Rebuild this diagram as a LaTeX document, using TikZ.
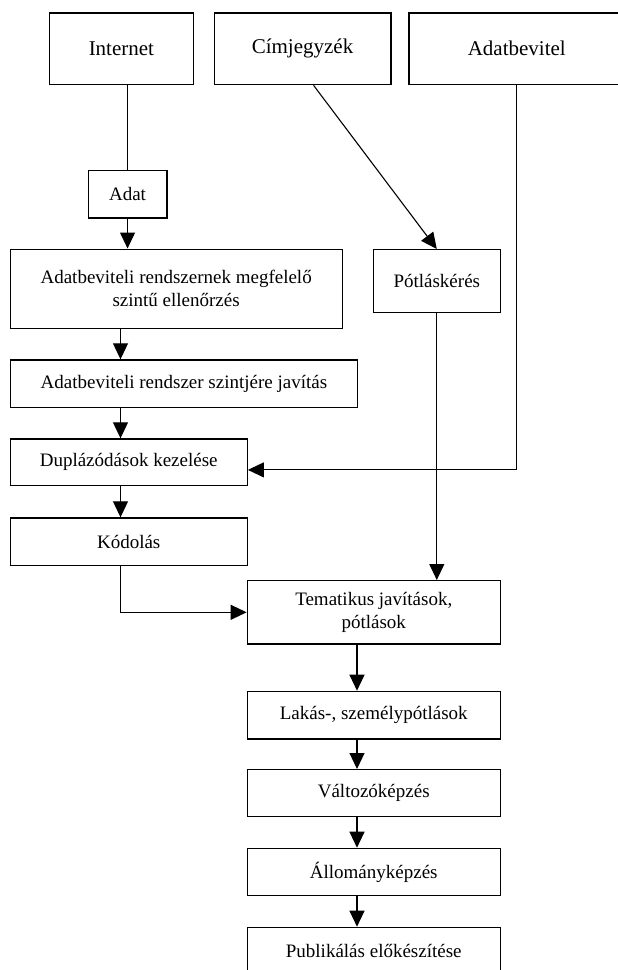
\documentclass[tikz,border=0pt]{standalone}
\usepackage{fontspec}
\setmainfont{Liberation Serif}
\usetikzlibrary{arrows.meta,calc}
\begin{document}
\begin{tikzpicture}[x=1pt,y=-1pt,
  box/.style={draw, line width=1.3pt, inner sep=0pt, anchor=north west, align=center, font=\fontsize{19}{23}\selectfont},
  topbox/.style={box, font=\fontsize{21}{25}\selectfont},
  conn/.style={line width=1.1pt},
  arr/.style={conn, -{Triangle[length=16pt,width=15pt]}}]
\useasboundingbox (0,0) rectangle (618,970);
\clip (0,0) rectangle (618,970);
% top row
\node[topbox, minimum width=144.5pt, minimum height=71.7pt] (inet) at (48.5,12.3) {Internet};
\node[topbox, minimum width=176.6pt, minimum height=71.7pt] (cim) at (213.6,12.3) {Címjegyzék};
\node[topbox, minimum width=215.7pt, minimum height=71.7pt] (adatb) at (408.3,12.3) {Adatbevitel};
% left column
\node[box, minimum width=78.8pt, minimum height=47.3pt] (adat) at (87.5,170) {Adat};
\node[box, minimum width=332pt, minimum height=79pt] (a1) at (9.5,248.5) {Adatbeviteli rendszernek megfelelő\\szintű ellenőrzés};
\node[box, minimum width=126.9pt, minimum height=63pt] (pot) at (372.7,249) {Pótláskérés};
\node[box, minimum width=347.5pt, minimum height=47.4pt] (a2) at (9.5,359.3) {Adatbeviteli rendszer szintjére javítás};
\node[box, minimum width=237.1pt, minimum height=46.7pt] (a3) at (9.5,438.3) {Duplázódások kezelése};
\node[box, minimum width=237.1pt, minimum height=47.7pt] (a4) at (9.5,517.3) {Kódolás};
% right column
\node[box, minimum width=253pt, minimum height=63.3pt] (tem) at (246.6,580) {Tematikus javítások,\\pótlások};
\node[box, minimum width=253pt, minimum height=47.6pt] (lak) at (246.6,690.7) {Lakás-, személypótlások};
\node[box, minimum width=253pt, minimum height=46.7pt] (val) at (246.6,769) {Változóképzés};
\node[box, minimum width=253pt, minimum height=47.3pt] (all) at (246.6,847.7) {Állományképzés};
\node[box, minimum width=253pt, minimum height=47.3pt] (pub) at (246.6,926.7) {Publikálás előkészítése};
% column coordinates
\coordinate (c1) at (120.5,0);
\coordinate (c3) at (357,0);
\coordinate (c2) at ([yshift=-7.6pt]a3.east);
% connectors
\draw[conn] (inet.south -| adat.north) -- (adat.north);
\draw[arr] (adat.south) -- (adat.south |- a1.north);
\draw[arr] ([xshift=11pt]cim.south) -- (pot.north);
\draw[arr] (a1.south -| c1) -- (a2.north -| c1);
\draw[arr] (a2.south -| c1) -- (a3.north -| c1);
\draw[arr] (a3.south -| c1) -- (a4.north -| c1);
\draw[arr] (adatb.south) -- (adatb.south |- c2) -- (c2);
\draw[arr] (pot.south) -- (pot.south |- tem.north);
\draw[arr] (a4.south -| c1) |- (tem.west);
\draw[arr] (tem.south -| c3) -- (lak.north -| c3);
\draw[arr] (lak.south -| c3) -- (val.north -| c3);
\draw[arr] (val.south -| c3) -- (all.north -| c3);
\draw[arr] (all.south -| c3) -- (pub.north -| c3);
\end{tikzpicture}
\end{document}
